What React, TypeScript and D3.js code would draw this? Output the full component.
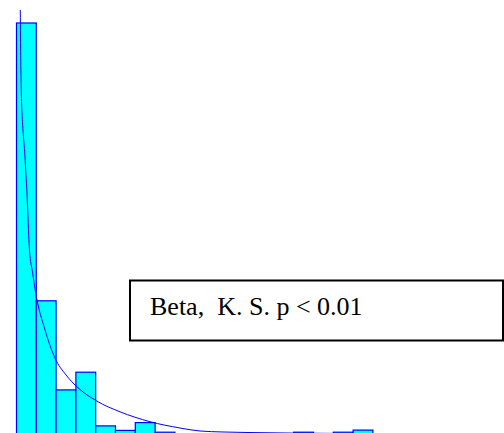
import React from "react";
import * as d3 from "d3";

const W = 504;
const H = 433;

// histogram: bin width 0.05 on [0,1]
const binStarts = [0, 0.05, 0.1, 0.15, 0.2, 0.25, 0.3, 0.35, 0.4, 0.45, 0.5, 0.55, 0.6, 0.65, 0.7, 0.75, 0.8, 0.85, 0.9, 0.95];
const binCounts = [137, 44.4, 14.7, 20.6, 2.7, 1.2, 3.8, 0.6, 0, 0, 0, 0, 0, 0, 0.6, 0, 0.6, 1.3, 0, 0];
const binWidth = 0.05;

// fitted Beta density
const curveX = [0.0096, 0.0101, 0.0119, 0.0152, 0.0182, 0.0207, 0.0232, 0.0258, 0.0283, 0.0308, 0.0328, 0.0404, 0.0485, 0.072, 0.0972, 0.125, 0.152, 0.2025, 0.2614, 0.3371, 0.4129, 0.4634, 0.5215, 0.5846, 0.7, 0.85, 1.0];
const curveY = [141.3, 132.3, 115.7, 103.7, 98, 94, 88, 82, 74.7, 66.3, 61.3, 54, 47, 34.7, 25.3, 19.7, 15.8, 11, 7.4, 4.1, 2, 1, 0.67, 0.5, 0.3, 0.15, 0.05];

const legendText = "Beta,  K. S. p < 0.01";

export default function App() {
  const x = d3.scaleLinear().domain([0, 1]).range([16.5, 412.5]);
  const y = d3.scaleLinear().domain([0, 141.33]).range([434, 10]);
  const pts: [number, number][] = curveX.map((v, i) => [v, curveY[i]]);
  const line = d3
    .line<[number, number]>()
    .x((d) => x(d[0]))
    .y((d) => y(d[1]))
    .curve(d3.curveMonotoneX);

  return (
    <svg
      width={W}
      height={H}
      style={{ position: "absolute", left: 0, top: 0, background: "#fff" }}
    >
      <g>
        {binStarts.map((b, i) =>
          binCounts[i] > 0 ? (
            <rect
              key={i}
              x={x(b)}
              y={y(binCounts[i])}
              width={x(b + binWidth) - x(b)}
              height={y(0) - y(binCounts[i])}
              fill="#00ffff"
              stroke="#0000ff"
              strokeWidth={1.2}
            />
          ) : null
        )}
      </g>
      <path d={line(pts) || ""} fill="none" stroke="#0000ff" strokeWidth={1} />
      <rect x={130} y={280.5} width={373} height={60} fill="#fff" stroke="#000" strokeWidth={2} />
      <text
        x={150}
        y={315}
        fontFamily="'Liberation Serif', 'Times New Roman', serif"
        fontSize={26}
        fill="#000"
        style={{ whiteSpace: "pre" }}
      >
        {legendText}
      </text>
    </svg>
  );
}
